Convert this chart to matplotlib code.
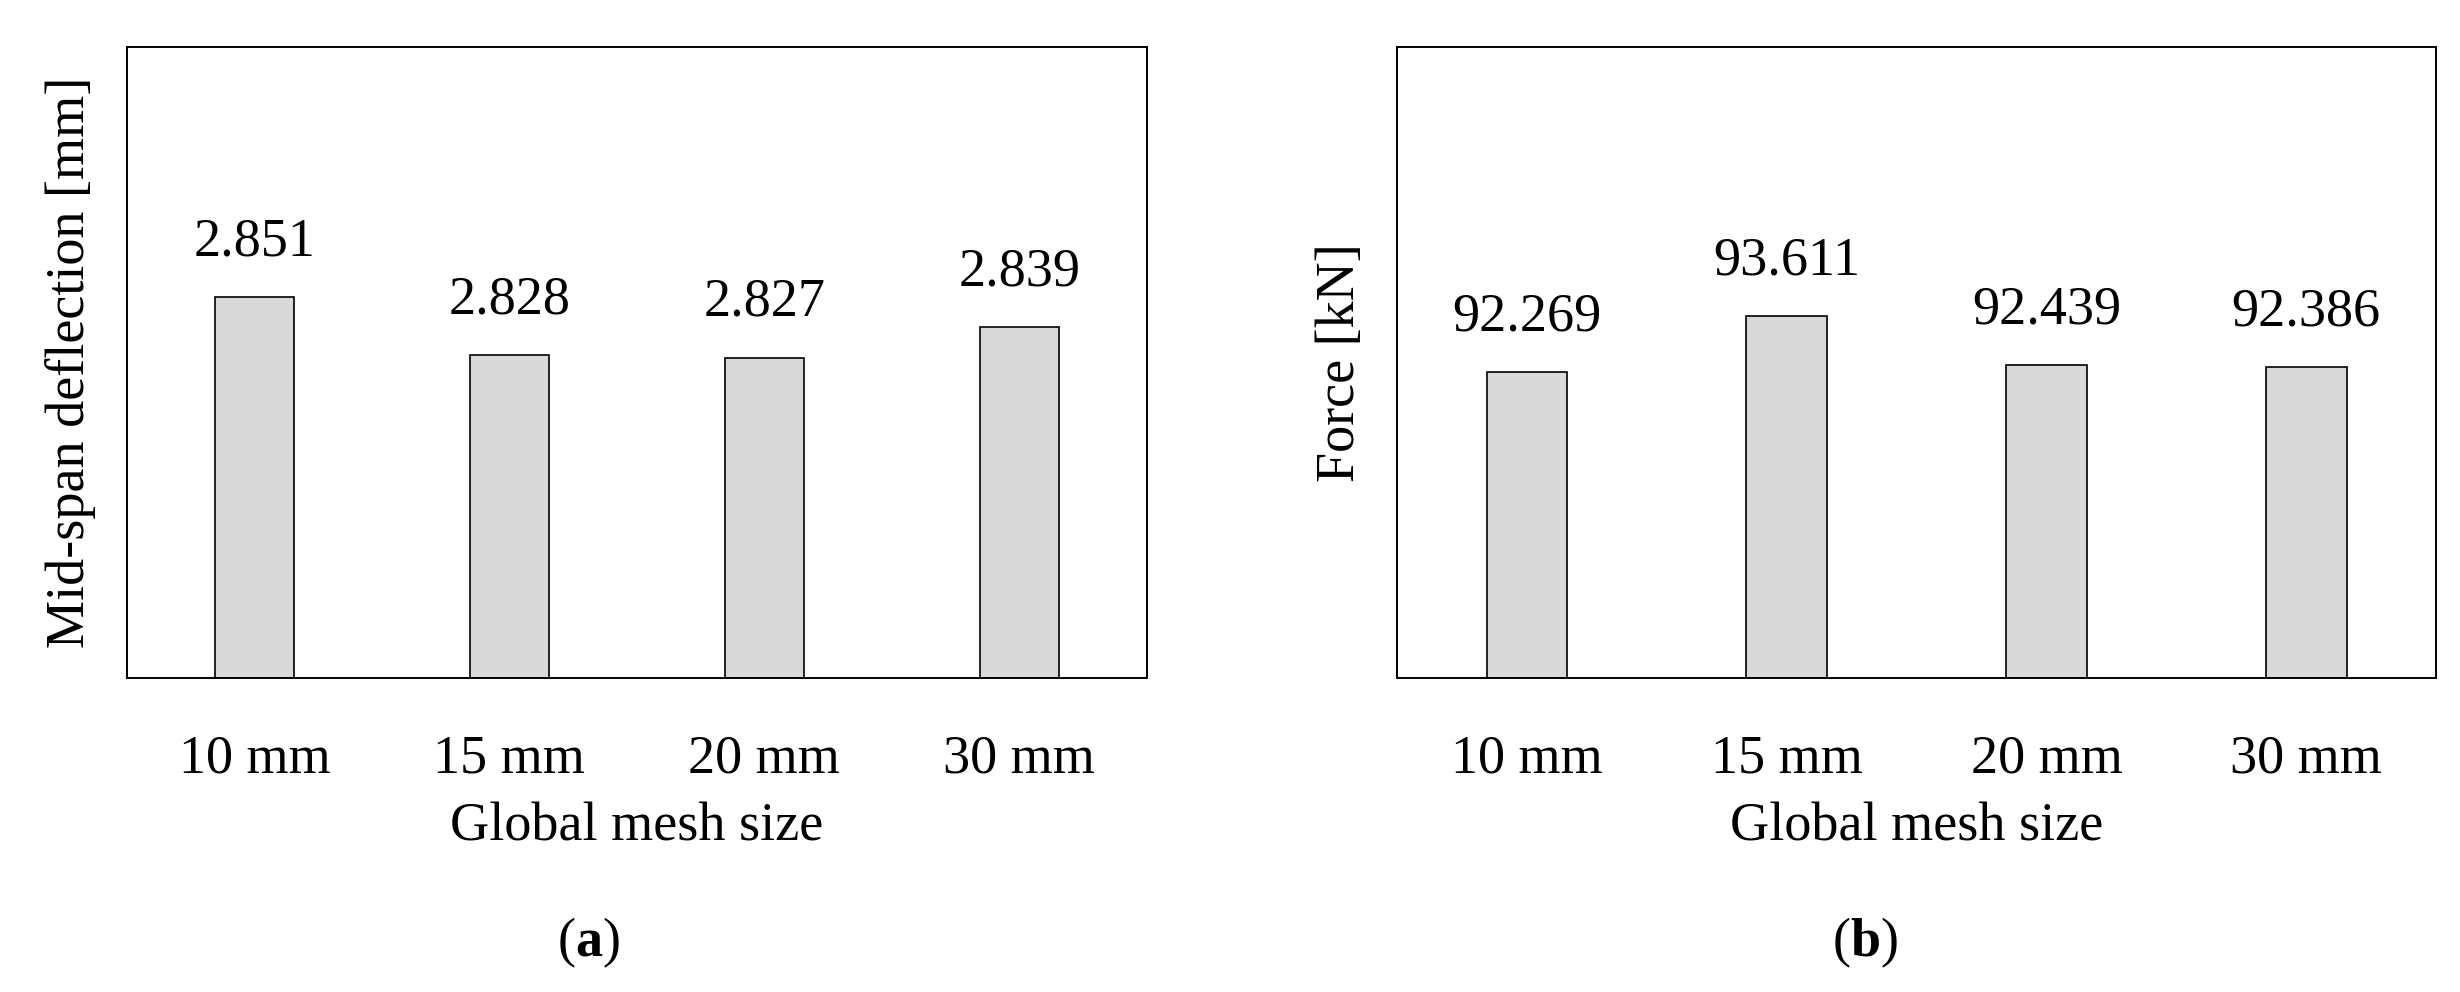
import matplotlib
matplotlib.use("Agg")
import matplotlib.pyplot as plt

# ==================== DATA ====================
mesh_sizes = ["10 mm", "15 mm", "20 mm", "30 mm"]
deflection = [2.851, 2.828, 2.827, 2.839]
force = [92.269, 93.611, 92.439, 92.386]

plt.rcParams["font.family"] = ["Liberation Serif", "DejaVu Serif"]
plt.rcParams["mathtext.fontset"] = "custom"
plt.rcParams["mathtext.rm"] = "Liberation Serif"
plt.rcParams["mathtext.bf"] = "Liberation Serif:bold"

FS = 39
fig = plt.figure(figsize=(24.6, 9.92), dpi=100)
ax_a = fig.add_axes([0.0516, 0.3165, 0.4146, 0.636])
ax_b = fig.add_axes([0.5679, 0.3165, 0.4224, 0.636])


def draw_panel(ax, values, ylim, ylabel):
    x = range(len(mesh_sizes))
    bars = ax.bar(x, values, width=0.31, color="#d9d9d9", edgecolor="black", linewidth=1.2)
    ax.set_ylim(*ylim)
    ax.set_xlim(-0.5, len(mesh_sizes) - 0.5)
    for b, v in zip(bars, values):
        ax.annotate(f"{v:.3f}", (b.get_x() + b.get_width() / 2, v),
                    xytext=(0, 30), textcoords="offset points",
                    ha="center", va="baseline", fontsize=FS)
    ax.set_xticks(list(x))
    ax.set_xticklabels(mesh_sizes, fontsize=FS)
    ax.set_yticks([])
    ax.tick_params(axis="x", length=0, pad=40)
    ax.set_xlabel("Global mesh size", fontsize=FS, labelpad=13)
    ax.set_ylabel(ylabel, fontsize=FS, labelpad=22)
    for s in ax.spines.values():
        s.set_linewidth(1.4)


draw_panel(ax_a, deflection, (2.7, 2.95), "Mid-span deflection [mm]")
draw_panel(ax_b, force, (85, 100), "Force [kN]")

fig.text(0.239, 0.0494, r"($\mathbf{a}$)", ha="center", va="center", fontsize=FS)
fig.text(0.758, 0.0494, r"($\mathbf{b}$)", ha="center", va="center", fontsize=FS)

fig.savefig("out.png", dpi=100)
